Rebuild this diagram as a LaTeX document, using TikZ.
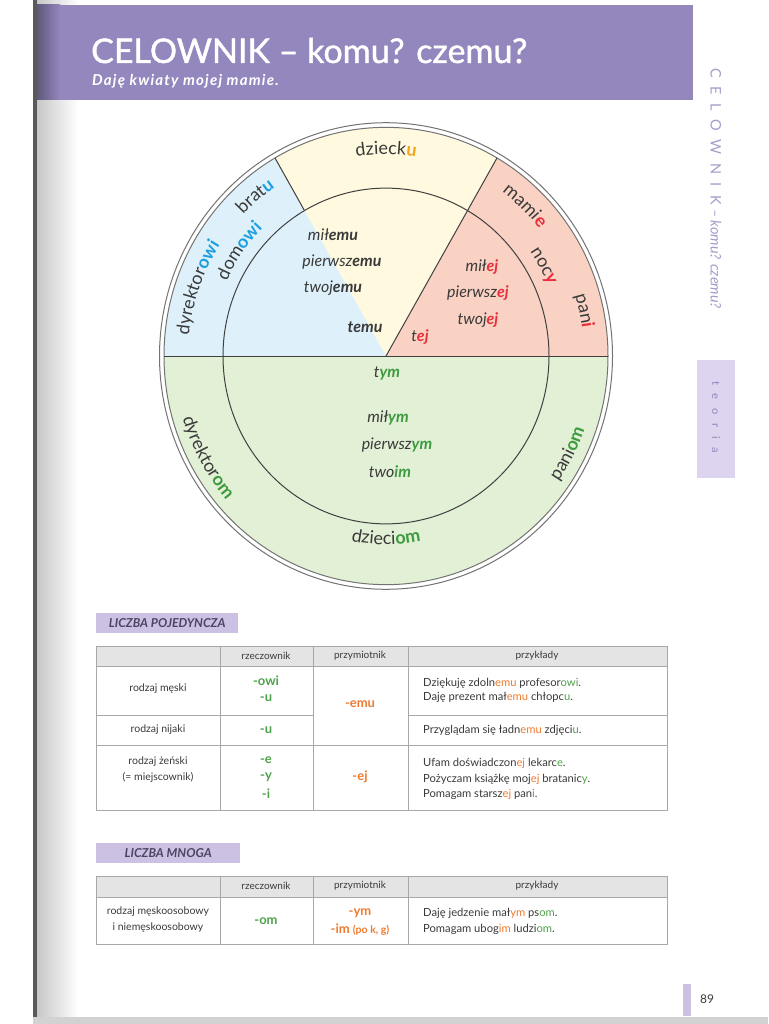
\documentclass[tikz,border=0pt]{standalone}
\usepackage{fontspec}
\setmainfont{Lato}
\newfontfamily\spacedfont[LetterSpace=60]{Lato}
\newfontfamily\titlefont[FakeBold=1.2]{Lato}
\usetikzlibrary{decorations.text}
\definecolor{headerPurple}{HTML}{9487BE}
\definecolor{sidePurple}{HTML}{A69CCA}
\definecolor{tabPurple}{HTML}{DDD4EF}
\definecolor{labelPurple}{HTML}{CDC1E3}
\definecolor{labelText}{HTML}{4B4560}
\definecolor{inkGray}{HTML}{3A3A3A}
\definecolor{ruleGray}{HTML}{A8A8A8}
\definecolor{headGray}{HTML}{E4E4E4}
\definecolor{fillBlue}{HTML}{DEF1FB}
\definecolor{fillYellow}{HTML}{FEF9DF}
\definecolor{fillPink}{HTML}{F9D2C4}
\definecolor{fillGreen}{HTML}{E2F1D6}
\definecolor{endBlue}{HTML}{1C9FE0}
\definecolor{endOrange}{HTML}{F2A51C}
\definecolor{endRed}{HTML}{E6303B}
\definecolor{endGreen}{HTML}{3D9A3F}
\definecolor{adjOrange}{HTML}{F07A2E}
\definecolor{nounGreen}{HTML}{4EA24A}

\newcommand{\ringstem}{\fontsize{18}{21}\selectfont\color{inkGray}}
\newcommand{\ringend}[1]{\fontsize{18}{21}\selectfont\bfseries\color{#1}}
\newcommand{\coreend}[2]{\textbf{\textcolor{#1}{#2}}}
\newcommand{\adjEnd}[1]{\textcolor{adjOrange}{#1}}
\newcommand{\nounEnd}[1]{\textcolor{nounGreen}{#1}}

\tikzset{
  ringline/.style={draw=black!75, line width=1pt},
  ringtext/.style={decorate, decoration={text along path, text align=center, text={#1}}},
  core/.style={inner sep=0pt, text=inkGray, font=\fontsize{16}{19}\selectfont\itshape},
  gridline/.style={draw=ruleGray, line width=0.7pt},
  cell/.style={inner sep=0pt, text=inkGray, font=\fontsize{10.5}{16}\selectfont, align=center},
  headcell/.style={cell, font=\fontsize{10}{12}\selectfont},
  example/.style={cell, font=\fontsize{11.2}{14}\selectfont, anchor=west, align=left},
  nounsuffix/.style={inner sep=0pt, text=nounGreen, font=\fontsize{13}{16}\selectfont\bfseries},
  adjsuffix/.style={inner sep=0pt, text=adjOrange, font=\fontsize{13}{16}\selectfont\bfseries},
  labelbar/.style={inner sep=0pt, fill=labelPurple, text=labelText, minimum width=142pt,
    minimum height=20pt, anchor=north west, font=\fontsize{12.3}{14}\selectfont\bfseries\itshape},
}

\begin{document}
\begin{tikzpicture}[x=1pt, y=1pt]
    \useasboundingbox (0,0) rectangle (768,-1024);
    \fill[white] (0,0) rectangle (768,-1024);

    % page edge and binding shadow
    \shade[left color=gray!45, right color=white] (36,0) rectangle (78,-1024);
    \fill[black!65] (33,0) rectangle (37,-1024);
    \fill[gray!35] (33,-1017) rectangle (768,-1024);

    % header band
    \fill[headerPurple] (60,-5) rectangle (693,-100);
    \shade[left color=headerPurple!65!black, right color=headerPurple] (37,-5) rectangle (60,-100);
    \node[anchor=base west, inner sep=0pt, text=white, font=\titlefont\fontsize{34}{40}\selectfont] (title)
        at (91,-63) {CELOWNIK – komu? czemu?};
    \node[anchor=base west, inner sep=0pt, text=white, font=\fontsize{15}{17}\selectfont\bfseries\itshape\addfontfeatures{LetterSpace=8}] (subtitle)
        at (92,-86) {Daję kwiaty mojej mamie.};

    % side tab
    \node[anchor=west, rotate=-90, inner sep=0pt, text=sidePurple, font=\fontsize{14.5}{17}\selectfont] (sideTitle)
        at (716,-68) {{\spacedfont CELOWNIK}\ \textit{– komu? czemu?}};
    \fill[tabPurple] (697,-360) rectangle (735,-478);
    \node[anchor=west, rotate=-90, inner sep=0pt, text=headerPurple, font=\fontsize{11}{13}\selectfont] (tabText)
        at (716,-381) {\spacedfont\addfontfeatures{LetterSpace=80}teoria};

    % wheel
    \begin{scope}[shift={(386,-356)}, yscale=1.03]
        \fill[fillGreen] (0,0) -- (180:222) arc (180:360:222) -- cycle;
        \fill[fillPink] (0,0) -- (0:222) arc (0:60:222) -- cycle;
        \fill[fillYellow] (0,0) -- (60:222) arc (60:120:222) -- cycle;
        \fill[fillBlue] (0,0) -- (120:222) arc (120:180:222) -- cycle;
        \draw[ringline, draw=black!55] (0,0) circle (222);
        \draw[ringline, draw=black!55] (0,0) circle (226.5);
        \draw[ringline] (0,0) circle (163);
        \draw[ringline] (180:222) -- (0:222);
        \draw[ringline] (0,0) -- (60:222);
        \draw[ringline] (120:163) -- (120:222);

        % outer ring, upper half
        \path[ringtext={|\ringstem|dyrektor|\ringend{endBlue}|owi}] (190.5:198) arc (190.5:130.5:198);
        \path[ringtext={|\ringstem|brat|\ringend{endBlue}|u}] (150:198) arc (150:110:198);
        \path[ringtext={|\ringstem|dom|\ringend{endBlue}|owi}] (170:175) arc (170:120:175);
        \path[ringtext={|\ringstem|dzieck|\ringend{endOrange}|u}] (110:196) arc (110:70:196);
        \path[ringtext={|\ringstem|mami|\ringend{endRed}|e}] (66.5:197) arc (66.5:26.5:197);
        \path[ringtext={|\ringstem|noc|\ringend{endRed}|y}] (44:176) arc (44:14:176);
        \path[ringtext={|\ringstem|pan|\ringend{endRed}|i}] (24.5:198) arc (24.5:0.5:198);

        % outer ring, lower half
        \path[ringtext={|\ringstem|dyrektor|\ringend{endGreen}|om}] (179:212) arc (179:239:212);
        \path[ringtext={|\ringstem|dzieci|\ringend{endGreen}|om}] (245:183) arc (245:295:183);
        \path[ringtext={|\ringstem|pani|\ringend{endGreen}|om}] (312.5:211) arc (312.5:352.5:211);
    \end{scope}

    % inner words
    \node[core] (milemu) at (333,-235) {mił\coreend{inkGray}{emu}};
    \node[core] (pierwszemu) at (342,-262) {pierwsz\coreend{inkGray}{emu}};
    \node[core] (twojemu) at (333,-288) {twoj\coreend{inkGray}{emu}};
    \node[core] (temu) at (365,-327) {\coreend{inkGray}{temu}};
    \node[core] (milej) at (482,-267) {mił\coreend{endRed}{ej}};
    \node[core] (pierwszej) at (478,-293) {pierwsz\coreend{endRed}{ej}};
    \node[core] (twojej) at (478,-320) {twoj\coreend{endRed}{ej}};
    \node[core] (tej) at (420,-337) {t\coreend{endRed}{ej}};
    \node[core] (tym) at (387,-373) {t\coreend{endGreen}{ym}};
    \node[core] (milym) at (388,-418) {mił\coreend{endGreen}{ym}};
    \node[core] (pierwszym) at (397,-445) {pierwsz\coreend{endGreen}{ym}};
    \node[core] (twoim) at (390,-472) {two\coreend{endGreen}{im}};

    % singular table
    \node[labelbar] (singLabel) at (96,-613) {LICZBA POJEDYNCZA};
    \fill[headGray] (96,-646) rectangle (667,-666);
    \draw[gridline] (96,-646) rectangle (667,-810);
    \draw[gridline] (96,-666) -- (667,-666);
    \draw[gridline] (96,-715) -- (313,-715);
    \draw[gridline] (408,-715) -- (667,-715);
    \draw[gridline] (96,-745) -- (667,-745);
    \foreach \x in {220,313,408}
        \draw[gridline] (\x,-646) -- (\x,-810);

    \node[headcell] (singNoun) at (266,-656) {rzeczownik};
    \node[headcell] (singAdj) at (360,-656) {przymiotnik};
    \node[headcell] (singEx) at (537,-656) {przykłady};

    \node[cell] (masc) at (158,-689) {rodzaj męski};
    \node[nounsuffix] (mascOwi) at (266,-681) {-owi};
    \node[nounsuffix] (mascU) at (266,-698) {-u};
    \node[adjsuffix] (mascEmu) at (360,-704) {-emu};
    \node[example] (exMascA) at (423,-683) {Dziękuję zdoln\adjEnd{emu} profesor\nounEnd{owi}.};
    \node[example] (exMascB) at (423,-697) {Daję prezent mał\adjEnd{emu} chłopc\nounEnd{u}.};

    \node[cell] (neut) at (158,-730) {rodzaj nijaki};
    \node[nounsuffix] (neutU) at (266,-730) {-u};
    \node[example] (exNeut) at (423,-730) {Przyglądam się ładn\adjEnd{emu} zdjęci\nounEnd{u}.};

    \node[cell] (fem) at (158,-770) {rodzaj żeński\\(= miejscownik)};
    \node[nounsuffix] (femE) at (266,-760) {-e};
    \node[nounsuffix] (femY) at (266,-777) {-y};
    \node[nounsuffix] (femI) at (266,-794) {-i};
    \node[adjsuffix] (femEj) at (360,-777) {-ej};
    \node[example] (exFemA) at (423,-763) {Ufam doświadczon\adjEnd{ej} lekarc\nounEnd{e}.};
    \node[example] (exFemB) at (423,-779) {Pożyczam książkę moj\adjEnd{ej} bratanic\nounEnd{y}.};
    \node[example] (exFemC) at (423,-794) {Pomagam starsz\adjEnd{ej} pan\nounEnd{i}.};

    % plural table
    \node[labelbar, minimum width=144pt] (plurLabel) at (96,-843) {LICZBA MNOGA};
    \fill[headGray] (96,-876) rectangle (667,-897);
    \draw[gridline] (96,-876) rectangle (667,-944);
    \draw[gridline] (96,-897) -- (667,-897);
    \foreach \x in {220,313,408}
        \draw[gridline] (\x,-876) -- (\x,-944);

    \node[headcell] (plurNoun) at (266,-886) {rzeczownik};
    \node[headcell] (plurAdj) at (360,-886) {przymiotnik};
    \node[headcell] (plurEx) at (537,-886) {przykłady};

    \node[cell] (plurGender) at (158,-920) {rodzaj męskoosobowy\\i niemęskoosobowy};
    \node[nounsuffix] (plurOm) at (266,-921) {-om};
    \node[adjsuffix] (plurYm) at (360,-913) {-ym};
    \node[adjsuffix] (plurIm) at (360,-930) {-im {\fontsize{10.5}{12}\selectfont(po k, g)}};
    \node[example] (exPlurA) at (423,-913) {Daję jedzenie mał\adjEnd{ym} ps\nounEnd{om}.};
    \node[example] (exPlurB) at (423,-929) {Pomagam ubog\adjEnd{im} ludzi\nounEnd{om}.};

    % page number
    \fill[labelPurple] (683,-984) rectangle (691,-1016);
    \node[inner sep=0pt, text=inkGray, font=\fontsize{12}{14}\selectfont] (pageNo) at (707,-999) {89};
\end{tikzpicture}
\end{document}
